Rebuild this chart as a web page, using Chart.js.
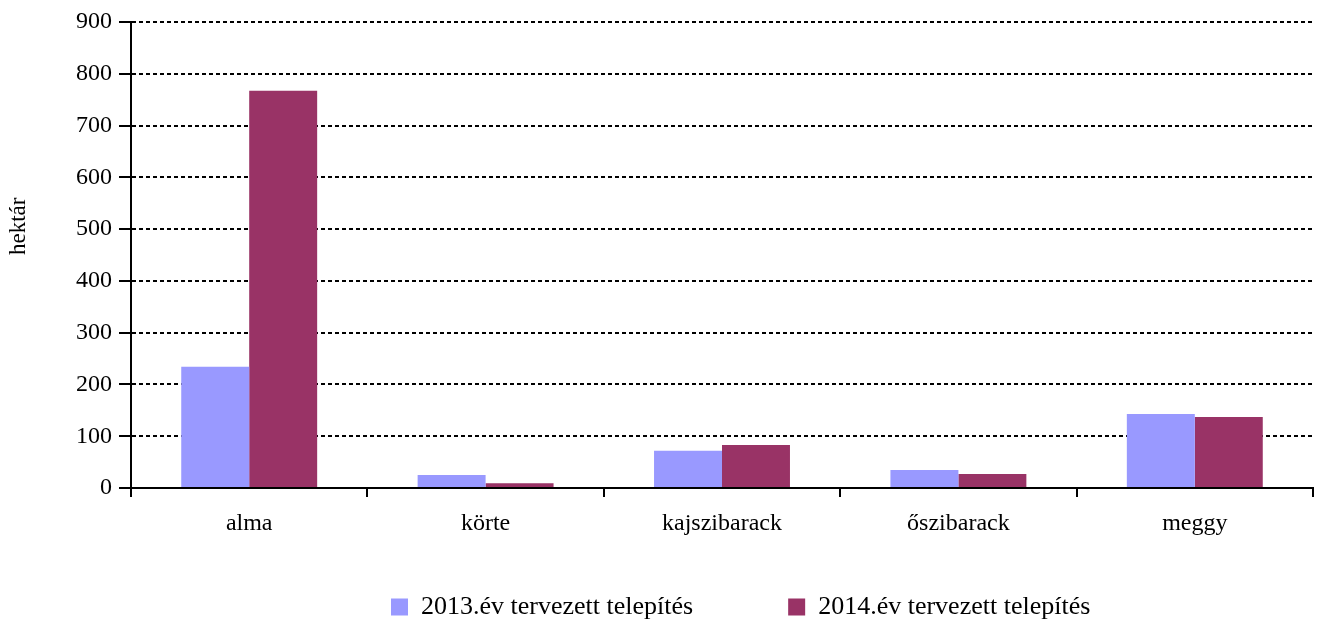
<!DOCTYPE html>
<html>
<head>
<meta charset="utf-8">
<script src="https://cdn.jsdelivr.net/npm/chart.js@4/dist/chart.umd.min.js"></script>
<style>
    html, body { margin: 0; padding: 0; background: #fff; }
    #wrap { width: 1319px; height: 624px; }
</style>
</head>
<body>
<div id="wrap"><canvas id="chart" width="1319" height="624"></canvas></div>
<script>
// ===== DATA =====
const categories = ['alma', 'körte', 'kajszibarack', 'őszibarack', 'meggy'];
const series2013 = [234, 25, 72, 35, 143];
const series2014 = [767, 9, 83, 27, 137];
const seriesNames = ['2013.év tervezett telepítés', '2014.év tervezett telepítés'];
const yTicks = [0, 100, 200, 300, 400, 500, 600, 700, 800, 900];

const FONT = "'Liberation Serif', 'Times New Roman', serif";

// move the legend row to where the reference puts it
const legendPlace = {
    id: 'legendPlace',
    afterLayout(chart) {
        const lg = chart.legend;
        if (!lg || !lg.lineWidths) return;
        const pad = lg.options.labels.padding;
        const startX = (lg.left + pad + lg.right - lg.lineWidths[0]) / 2;
        const dx = 391 - startX;
        lg.left += dx;
        lg.right += dx;
        const itemH = lg.options.labels.font.size;
        lg.top = 607 - pad - itemH / 2;
    }
};

new Chart(document.getElementById('chart'), {
    type: 'bar',
    data: {
        labels: categories,
        datasets: [
            {
                label: seriesNames[0],
                data: series2013,
                backgroundColor: '#9999FF',
                borderWidth: 0
            },
            {
                label: seriesNames[1],
                data: series2014,
                backgroundColor: '#993366',
                borderWidth: 0
            }
        ]
    },
    options: {
        responsive: false,
        animation: false,
        layout: {
            padding: { left: 0, right: 6, top: 22, bottom: 0 }
        },
        datasets: {
            bar: {
                categoryPercentage: 0.575,
                barPercentage: 1.0
            }
        },
        plugins: {
            tooltip: { enabled: false },
            legend: {
                position: 'bottom',
                maxHeight: 40,
                labels: {
                    boxWidth: 17,
                    boxHeight: 17,
                    padding: 95,
                    color: '#000',
                    font: { family: FONT, size: 26 }
                }
            }
        },
        scales: {
            x: {
                grid: {
                    display: true,
                    drawOnChartArea: false,
                    drawTicks: true,
                    tickLength: 9,
                    color: '#000',
                    lineWidth: 2,
                    offset: true
                },
                border: { display: true, color: '#000', width: 2 },
                ticks: {
                    color: '#000',
                    padding: 12,
                    maxRotation: 0,
                    autoSkip: false,
                    font: { family: FONT, size: 24 }
                },
                afterFit(scale) {
                    scale.height = 96;
                }
            },
            y: {
                min: 0,
                max: 900,
                afterBuildTicks(scale) {
                    scale.ticks = yTicks.map(v => ({ value: v }));
                },
                grid: {
                    color: '#000',
                    lineWidth: 2,
                    tickLength: 12,
                    tickWidth: 2,
                    tickBorderDash: []
                },
                border: { display: true, color: '#000', width: 2, dash: [4, 3] },
                ticks: {
                    color: '#000',
                    padding: 7,
                    font: { family: FONT, size: 24 }
                },
                title: {
                    display: true,
                    // leading spaces lift the rotated title to where the reference has it
                    text: '\u00a0'.repeat(10) + 'hektár',
                    color: '#000',
                    padding: { top: 5, bottom: 40 },
                    font: { family: FONT, size: 23 }
                },
                afterFit(scale) {
                    scale.width = 131;
                }
            }
        }
    },
    plugins: [legendPlace]
});
</script>
</body>
</html>
